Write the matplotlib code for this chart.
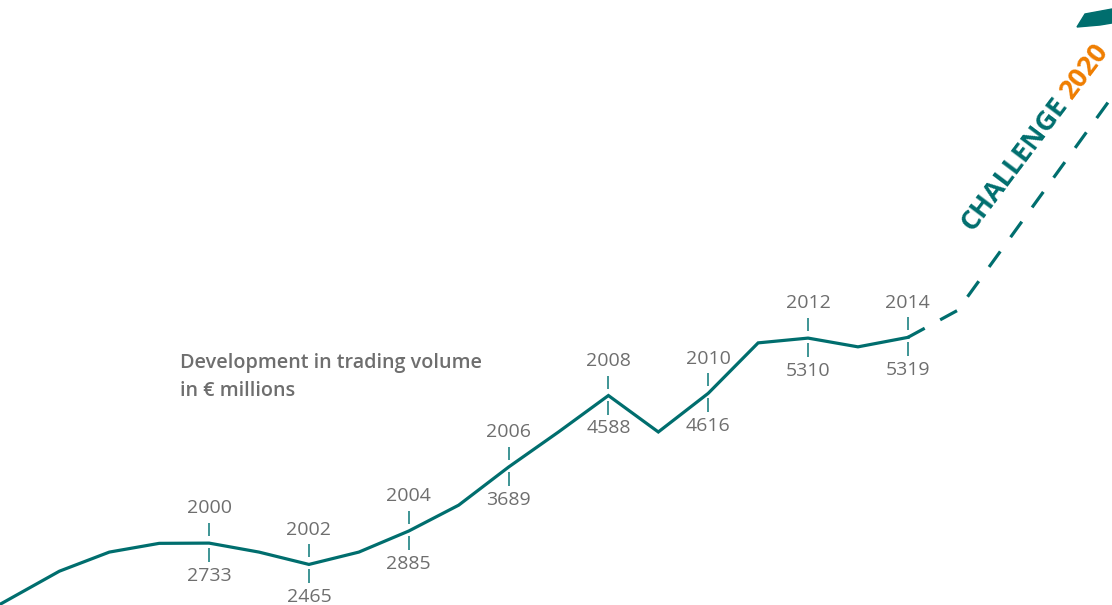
import matplotlib
matplotlib.use("Agg")
import matplotlib.pyplot as plt
from matplotlib.patches import Polygon
from matplotlib.transforms import offset_copy
import numpy as np

# trading volume in EUR millions (intermediate years)
years  = [1995, 1996, 1997, 1998, 1999, 2000, 2001, 2002, 2003, 2004, 2005,
          2006, 2007, 2008, 2009, 2010, 2011, 2012, 2013, 2014]
volume = [1680, 2030, 2380, 2620, 2730, 2733, 2620, 2465, 2620, 2885, 3210,
          3689, 4130, 4588, 4130, 4616, 5250, 5310, 5200, 5319]

# dashed outlook towards 2020
plan_years  = [2014, 2015, 2020]
plan_volume = [5319, 5660, 10000]

label_years = [2000, 2002, 2004, 2006, 2008, 2010, 2012, 2014]

title    = "Development in trading volume\nin € millions"
teal     = "#006E6E"
tick_col = "#2F8C8C"
orange   = "#EF7D00"
grey     = "#6E6E6E"
font     = ["Open Sans", "DejaVu Sans"]

#
fig = plt.figure(figsize=(11.12, 6.05), dpi=100)
ax  = fig.add_axes([0, 0, 1, 1])
ax.set_xlim(1995.81, 2018.09)
ax.set_ylim(1955, 9560)
ax.axis("off")

# value units per pixel
dv = (9560 - 1955) / 605.

ax.plot(years, volume, color=teal, lw=2.3, solid_joinstyle="miter", zorder=3)
ax.plot(plan_years, plan_volume, color=teal, lw=2.3, dashes=(6.0, 5.5),
        dash_capstyle="butt", zorder=3)

#
# year above, value below
for yr in label_years:
    v = volume[years.index(yr)]
    ax.vlines(yr, v + 7 * dv, v + 20 * dv, color=tick_col, lw=1.3)
    ax.vlines(yr, v - 19 * dv, v - 5 * dv, color=tick_col, lw=1.3)
    ax.annotate(str(yr), (yr, v), xytext=(0, 25), textcoords="offset points",
                ha="center", va="center", fontsize=14, color=grey, family=font)
    ax.annotate(str(v), (yr, v), xytext=(0, -23.5), textcoords="offset points",
                ha="center", va="center", fontsize=14, color=grey, family=font)

ax.text(180 / 1112., 1 - 353 / 605., title, transform=ax.transAxes,
        ha="left", va="top", fontsize=14.2, fontweight="semibold", color=grey,
        family=font, linespacing=1.55)

#
# CHALLENGE 2020 along the outlook
angle = 53.
x0, y0 = 972 / 1112., 1 - 232 / 605.
ax.text(x0, y0, "CHALLENGE", transform=ax.transAxes, rotation=angle,
        rotation_mode="anchor", ha="left", va="baseline", fontsize=19.5,
        fontweight="bold", color=teal, family=font)
fig.canvas.draw()
r   = fig.canvas.get_renderer()
tmp = ax.text(0, 0, "CHALLENGE", fontsize=19.5, fontweight="bold", family=font)
w   = tmp.get_window_extent(r).width + 6
tmp.remove()
tr = offset_copy(ax.transAxes, fig=fig, x=w * np.cos(np.radians(angle)),
                 y=w * np.sin(np.radians(angle)), units="dots")
ax.text(x0, y0, "2020", transform=tr, rotation=angle, rotation_mode="anchor",
        ha="left", va="baseline", fontsize=19.5, fontweight="bold",
        color=orange, family=font)

# arrow head at the top corner
head = np.array([[1077, 27], [1085, 14], [1112, 9], [1112, 23], [1100, 25]], float)
head[:, 0] /= 1112.
head[:, 1] = 1 - head[:, 1] / 605.
ax.add_patch(Polygon(head, closed=True, color=teal, transform=ax.transAxes,
                     clip_on=False))

fig.savefig("out.png", dpi=100)
